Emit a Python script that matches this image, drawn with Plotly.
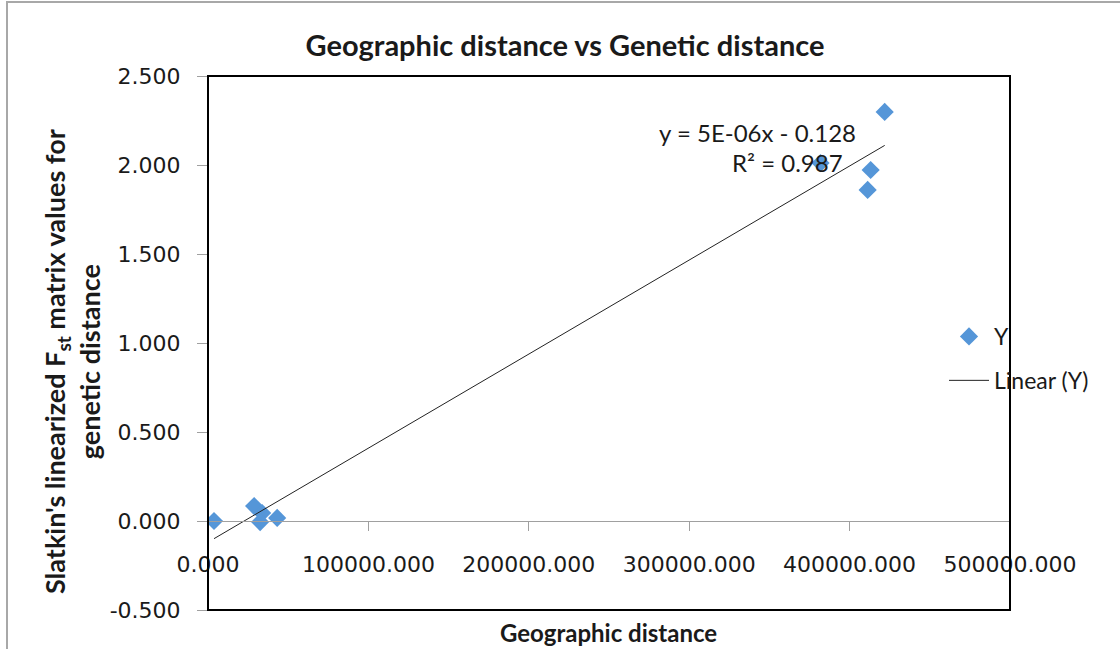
import numpy as np
import plotly.graph_objects as go

# ---- data ----
geo_distance = [3750, 28750, 33750, 32500, 43125, 381875, 411250, 413125, 421875]
gen_distance = [0.000, 0.084, 0.045, -0.006, 0.017, 2.011, 1.860, 1.972, 2.298]

y_tick_values = [-0.5, 0.0, 0.5, 1.0, 1.5, 2.0, 2.5]
y_tick_labels = ["-0.500", "0.000", "0.500", "1.000", "1.500", "2.000", "2.500"]
x_tick_values = [0, 100000, 200000, 300000, 400000, 500000]

title_text = "Geographic distance vs Genetic distance"
x_title = "Geographic distance"
y_title = "Slatkin's linearized F<sub>st</sub> matrix values for<br>genetic distance"
equation_text = "y = 5E-06x - 0.128"
r2_text = "R² = 0.987"

# ---- layout geometry (pixels) ----
W, H = 1120, 649
L, R, T, B = 208, 110, 76, 39
pw, ph = W - L - R, H - T - B


def px_x(px):
    return (px - L) / pw


def px_y(py):
    return (H - B - py) / ph


# linear trend fitted to the data
slope, intercept = np.polyfit(geo_distance, gen_distance, 1)
trend_x = [min(geo_distance), max(geo_distance)]
trend_y = [slope * v + intercept for v in trend_x]

marker_color = "#5596D8"
text_color = "#1a1a1a"
calibri = "Lato, 'Open Sans', sans-serif"
num_font = "DejaVu Sans, sans-serif"

fig = go.Figure()
fig.add_trace(go.Scatter(
    x=geo_distance, y=gen_distance, mode="markers", name="Y",
    marker=dict(symbol="diamond", size=14, color=marker_color),
    legendgroup="a",
))
fig.add_trace(go.Scatter(
    x=trend_x, y=trend_y, mode="lines", name="Linear (Y)",
    line=dict(color="#222222", width=1),
    legendgroup="b",
))

fig.update_layout(
    width=W, height=H,
    margin=dict(l=L, r=R, t=T, b=B),
    paper_bgcolor="white", plot_bgcolor="white",
    title=dict(text="<b>" + title_text + "</b>", x=565 / W, xref="container",
               y=1 - 46 / H, yref="container", xanchor="center", yanchor="middle",
               font=dict(family=calibri, size=29, color=text_color)),
    xaxis=dict(range=[0, 500000], tickvals=x_tick_values, tickformat=".3f",
               anchor="free", position=1 / 6, showgrid=False, zeroline=False,
               showline=True, linecolor="#a0a0a0", linewidth=1,
               ticks="outside", ticklen=9, tickcolor="#a0a0a0",
               ticklabelstandoff=15,
               tickfont=dict(family=num_font, size=22, color=text_color)),
    yaxis=dict(range=[-0.5, 2.5], tickvals=y_tick_values, ticktext=y_tick_labels,
               showgrid=False, zeroline=False, showline=False,
               ticks="outside", ticklen=10, tickcolor="#a0a0a0",
               ticklabelstandoff=12,
               tickfont=dict(family=num_font, size=22, color=text_color)),
    showlegend=True,
    legend=dict(x=px_x(944), y=px_y(315), xanchor="left", yanchor="top",
                bgcolor="rgba(0,0,0,0)", traceorder="grouped", tracegroupgap=11,
                itemwidth=40,
                font=dict(family=calibri, size=23, color=text_color)),
    shapes=[
        dict(type="rect", xref="paper", yref="paper", x0=0, x1=1, y0=0, y1=1,
             line=dict(color="black", width=2), layer="above"),
        dict(type="path", xref="paper", yref="paper",
             path=f"M {px_x(7)} {px_y(660)} L {px_x(7)} {px_y(2)} L {px_x(1130)} {px_y(2)}",
             line=dict(color="#a8a8a8", width=2)),
    ],
    annotations=[
        dict(text=equation_text, xref="paper", yref="paper", x=px_x(858), y=px_y(132),
             xanchor="right", yanchor="middle", showarrow=False,
             font=dict(family=calibri, size=24, color=text_color)),
        dict(text=r2_text, xref="paper", yref="paper", x=px_x(845), y=px_y(163),
             xanchor="right", yanchor="middle", showarrow=False,
             font=dict(family=calibri, size=24, color=text_color)),
        dict(text="<b>" + x_title + "</b>", xref="paper", yref="paper",
             x=px_x(608), y=px_y(632), xanchor="center", yanchor="middle",
             showarrow=False, font=dict(family=calibri, size=24, color=text_color)),
        dict(text="<b>" + y_title + "</b>", xref="paper", yref="paper",
             x=px_x(72), y=px_y(362), xanchor="center", yanchor="middle",
             textangle=-90, showarrow=False,
             font=dict(family=calibri, size=27, color=text_color)),
    ],
)

fig.write_html("out.html", config={"displayModeBar": False},
               post_script="document.body.style.margin='0';document.body.style.overflow='hidden';")
